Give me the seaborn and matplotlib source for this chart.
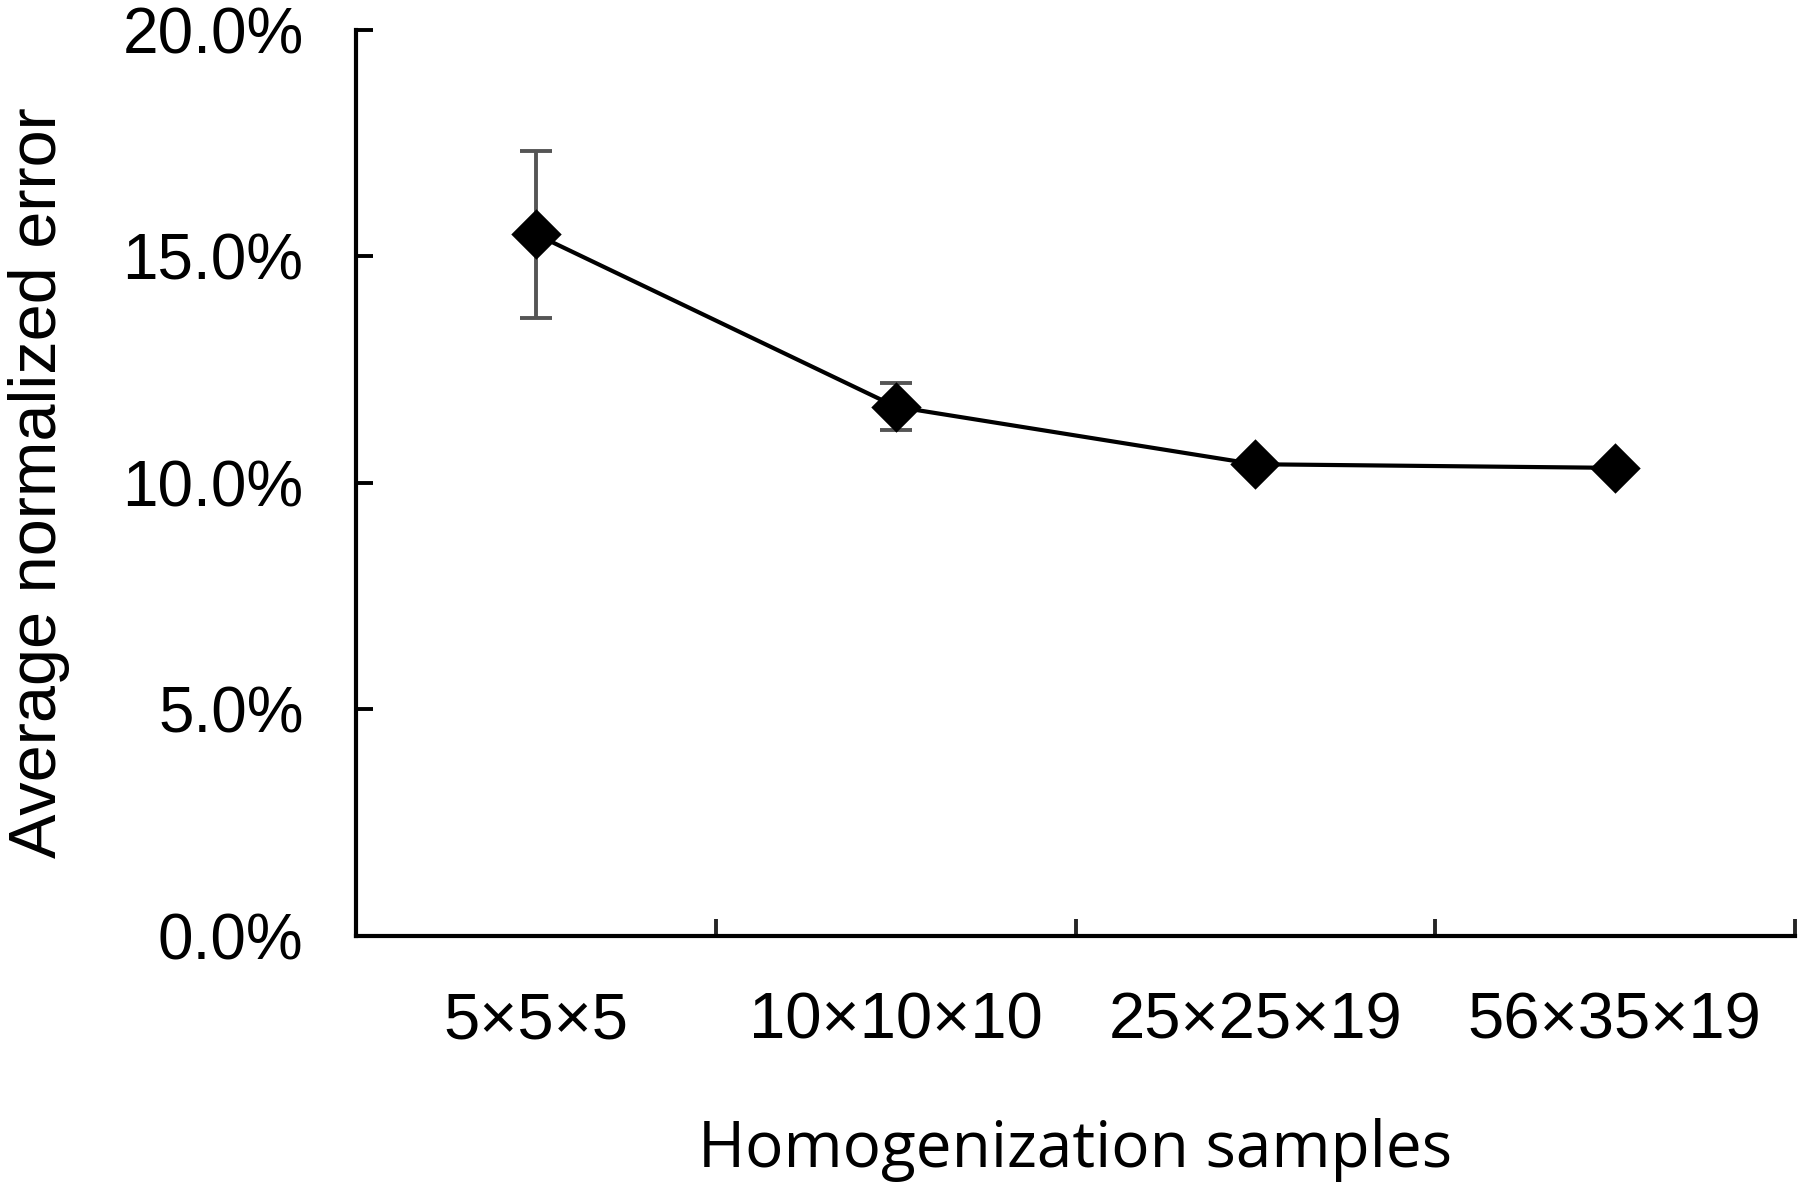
import matplotlib
matplotlib.use("Agg")
import matplotlib.pyplot as plt
import seaborn as sns
import pandas as pd
from matplotlib.ticker import FixedLocator, FuncFormatter

categories = ["5×5×5", "10×10×10", "25×25×19", "56×35×19"]
mean_error = [15.48, 11.68, 10.41, 10.33]
err_halfwidth = [1.84, 0.52, 0.0, 0.0]
y_ticks = [0, 5, 10, 15, 20]

df = pd.DataFrame({"sample": categories, "error": mean_error})

sns.set_theme(style="white")
plt.rcParams["font.family"] = ["Liberation Sans", "DejaVu Sans"]

fig = plt.figure(figsize=(18, 11.87), dpi=100)
ax = fig.add_axes([0.198, 0.2115, 0.799, 0.7635])

pos = list(range(len(categories)))
ax.errorbar(pos, mean_error, yerr=err_halfwidth, fmt="none", ecolor="#555555",
            elinewidth=2.8, capsize=11.5, capthick=2.8, zorder=2)
sns.pointplot(data=df, x="sample", y="error", order=categories, color="black",
              markers="D", markersize=23, linewidth=3.0, ax=ax, zorder=3)

ax.set_ylim(0, 20)
ax.set_xlim(-0.5, 3.5)
ax.yaxis.set_major_locator(FixedLocator(y_ticks))
ax.yaxis.set_major_formatter(FuncFormatter(lambda v, p: f"{v:.1f}%"))

ax.xaxis.set_major_locator(FixedLocator([0.5, 1.5, 2.5, 3.5]))
ax.xaxis.set_major_formatter(FuncFormatter(lambda v, p: ""))
ax.set_xticks(pos, minor=True)
ax.set_xticklabels(categories, minor=True)

ax.tick_params(axis="y", which="major", direction="in", length=12, width=2.8,
               labelsize=46, pad=38, left=True, colors="black")
ax.tick_params(axis="x", which="major", direction="in", length=12, width=2.8,
               bottom=True)
ax.tick_params(axis="x", which="minor", length=0, labelsize=47, pad=40,
               bottom=True, labelcolor="black")

for s in ["top", "right"]:
    ax.spines[s].set_visible(False)
for s in ["left", "bottom"]:
    ax.spines[s].set_color("black")
    ax.spines[s].set_linewidth(3)

ax.set_xlabel("Homogenization samples", fontsize=46, family=["Open Sans", "DejaVu Sans"],
              labelpad=48, color="black")
ax.set_ylabel("Average normalized error", fontsize=48, labelpad=38, color="black")

fig.savefig("out.png", dpi=100, facecolor="white")
